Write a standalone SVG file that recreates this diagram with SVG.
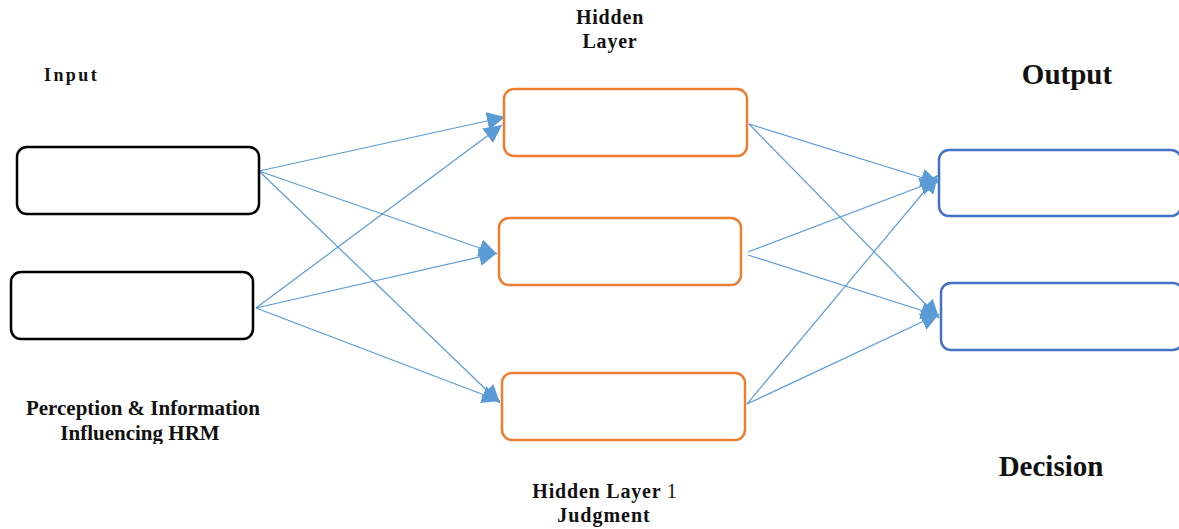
<svg xmlns="http://www.w3.org/2000/svg" width="1179" height="529" viewBox="0 0 1179 529">
  <style>
    .lbl { font-family: "Liberation Serif", "Times New Roman", serif; font-weight: bold; fill: #111; }
    .inp { fill: #fff; stroke: #000; stroke-width: 2.5; }
    .hid { fill: #fff; stroke: #ED7D31; stroke-width: 2.5; }
    .out { fill: #fff; stroke: #4472C4; stroke-width: 2.5; }
    .edge { stroke: #5B9BD5; stroke-width: 1.2; fill: none; marker-end: url(#arr); }
  </style>
  <defs>
    <marker id="arr" viewBox="0 0 10 10" refX="10" refY="5" markerWidth="18" markerHeight="18" markerUnits="userSpaceOnUse" orient="auto">
      <path d="M0,0 L10,5 L0,10 z" fill="#5B9BD5"/>
    </marker>
    <clipPath id="cutLower">
      <rect x="0" y="0" width="400" height="444"/>
    </clipPath>
  </defs>
  <rect width="1179" height="529" fill="#fff"/>

  <g id="connectors">
    <line class="edge" x1="259" y1="171" x2="505" y2="117"/>
    <line class="edge" x1="259" y1="171" x2="497" y2="254"/>
    <line class="edge" x1="259" y1="171" x2="500" y2="403"/>
    <line class="edge" x1="256" y1="308" x2="502" y2="125"/>
    <line class="edge" x1="256" y1="308" x2="497" y2="253"/>
    <line class="edge" x1="256" y1="308" x2="500" y2="401"/>
    <line class="edge" x1="749" y1="124" x2="939" y2="183"/>
    <line class="edge" x1="749" y1="124" x2="939" y2="318"/>
    <line class="edge" x1="748" y1="252" x2="938" y2="180"/>
    <line class="edge" x1="748" y1="255" x2="939" y2="316"/>
    <line class="edge" x1="747" y1="404" x2="938" y2="175"/>
    <line class="edge" x1="747" y1="404" x2="939" y2="314"/>
  </g>

  <g id="input-1"><rect class="inp" x="17" y="147" width="242" height="67" rx="10"/></g>
  <g id="input-2"><rect class="inp" x="11" y="272" width="242" height="67" rx="10"/></g>

  <g id="hidden-1"><rect class="hid" x="504" y="89" width="243" height="67" rx="10"/></g>
  <g id="hidden-2"><rect class="hid" x="499" y="218" width="242" height="67" rx="10"/></g>
  <g id="hidden-3"><rect class="hid" x="502" y="373" width="243" height="67" rx="10"/></g>

  <g id="output-1"><rect class="out" x="939" y="150" width="242" height="66" rx="10"/></g>
  <g id="output-2"><rect class="out" x="941" y="283" width="242" height="67" rx="10"/></g>

  <g id="labels">
    <text class="lbl" x="44" y="81" font-size="18" letter-spacing="2.4">Input</text>
    <text class="lbl" x="610" y="24" font-size="20" letter-spacing="0.8" text-anchor="middle">Hidden</text>
    <text class="lbl" x="610" y="48" font-size="20" letter-spacing="0.8" text-anchor="middle">Layer</text>
    <text class="lbl" x="1067" y="84" font-size="29" text-anchor="middle">Output</text>
    <g clip-path="url(#cutLower)">
      <text class="lbl" x="143" y="415" font-size="21" text-anchor="middle">Perception &amp; Information</text>
      <text class="lbl" x="140" y="440" font-size="21" text-anchor="middle">Influencing HRM</text>
    </g>
    <text class="lbl" x="605" y="498" font-size="20" letter-spacing="0.8" text-anchor="middle">Hidden Layer <tspan font-weight="normal">1</tspan></text>
    <text class="lbl" x="604" y="522" font-size="20" letter-spacing="1" text-anchor="middle">Judgment</text>
    <text class="lbl" x="1051" y="476" font-size="29" text-anchor="middle">Decision</text>
  </g>
</svg>
